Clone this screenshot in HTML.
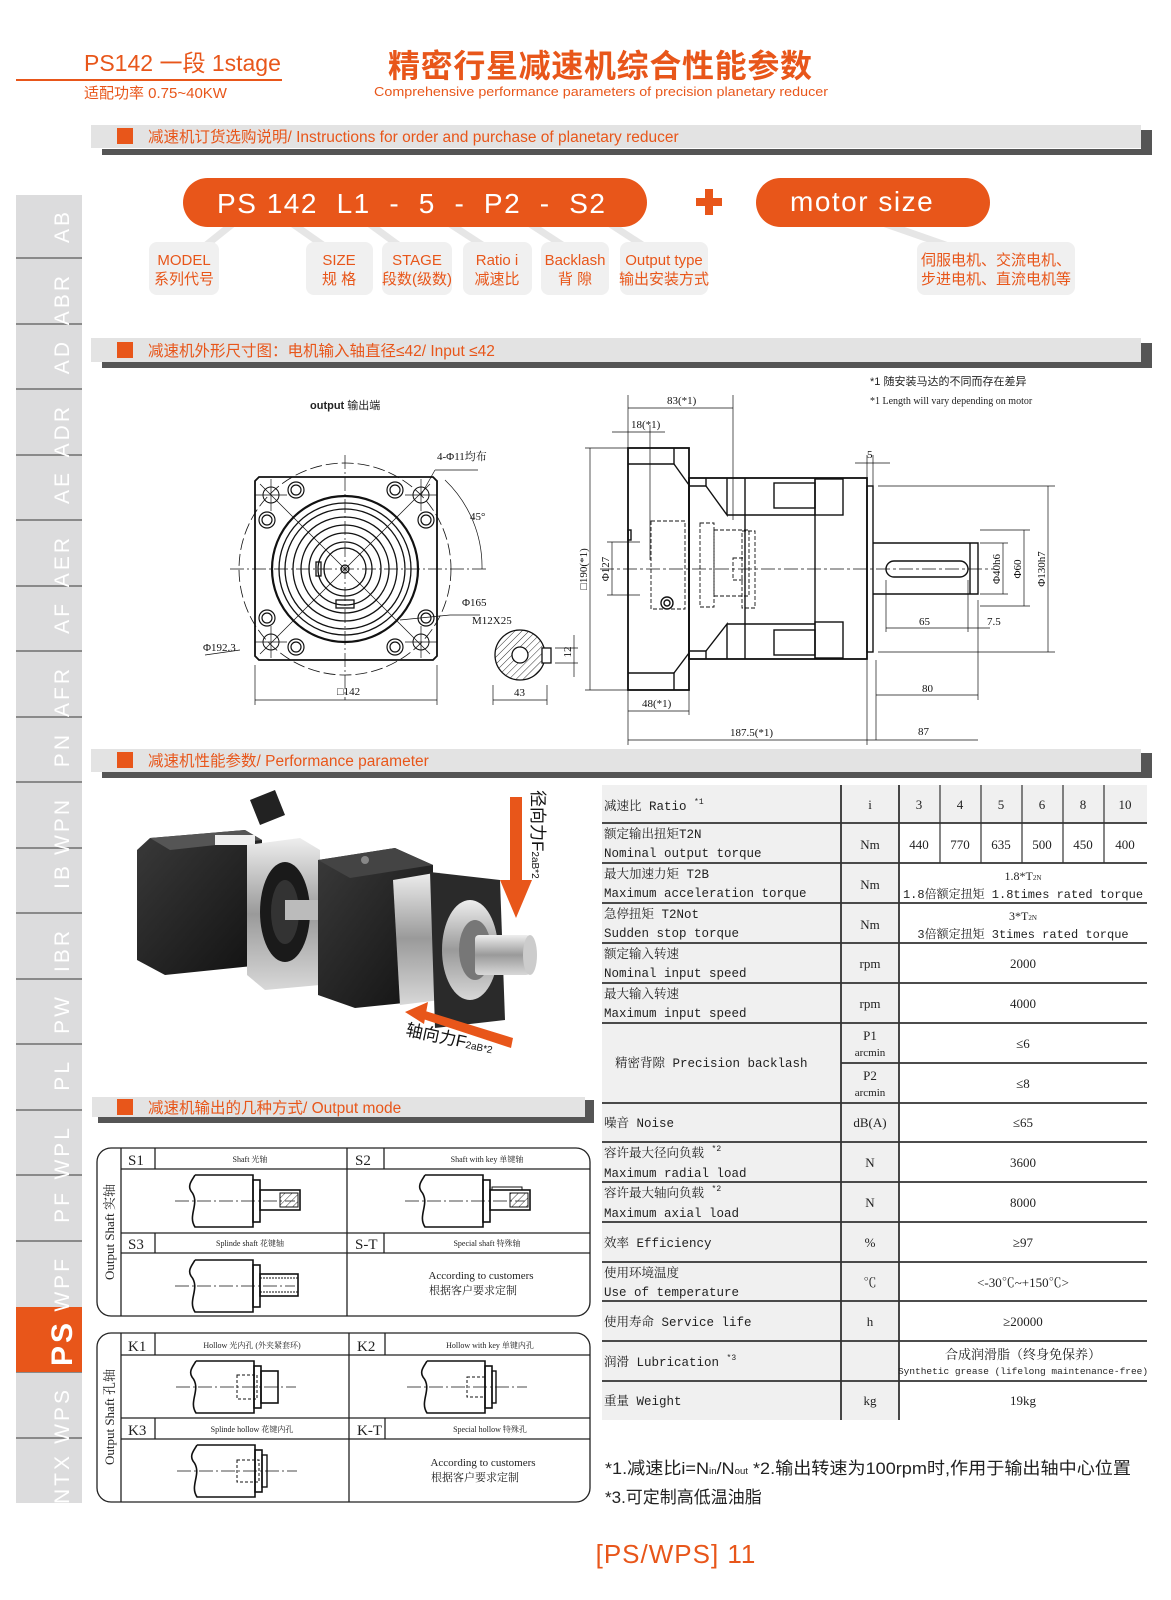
<!DOCTYPE html>
<html><head><meta charset="utf-8">
<style>
html,body{margin:0;padding:0;background:#fff;}
svg{display:block;}
.cn{font-family:"Liberation Sans","Noto Sans CJK SC",sans-serif;}
.sf{font-family:"Liberation Serif","Noto Serif CJK SC",serif;}
.mo{font-family:"Liberation Mono","Noto Serif CJK SC",monospace;}
</style></head>
<body>
<svg width="1171" height="1600" viewBox="0 0 1171 1600" xmlns="http://www.w3.org/2000/svg">
<defs>
<pattern id="hatch" width="5" height="5" patternUnits="userSpaceOnUse" patternTransform="rotate(45)">
<line x1="0" y1="0" x2="0" y2="5" stroke="#333" stroke-width="1"/></pattern>
<linearGradient id="silver" x1="0" y1="0" x2="0" y2="1"><stop offset="0" stop-color="#eee"/><stop offset=".5" stop-color="#9a9a9a"/><stop offset="1" stop-color="#d8d8d8"/></linearGradient>
<linearGradient id="dark" x1="0" y1="0" x2="1" y2="1"><stop offset="0" stop-color="#3a3a3a"/><stop offset="1" stop-color="#111"/></linearGradient>
<g id="shaftbody" fill="none" stroke="#111" stroke-width="1.6">
<path d="M0,0 L58,0 L58,52 L0,52 C-8,40 6,28 -4,16 C-8,10 -2,4 0,0"/>
<rect x="58" y="5" width="7" height="42"/>
<line x1="-20" y1="26" x2="100" y2="26" stroke-width="0.8" stroke-dasharray="14,3,2,3"/>
</g>
</defs>

<!-- header -->
<text x="84" y="71" class="cn" font-size="23" fill="#e8561a">PS142 一段 1stage</text>
<rect x="16" y="79" width="266" height="2" fill="#e8561a"/>
<text x="84" y="98" class="cn" font-size="15" fill="#e8561a">适配功率 0.75~40KW</text>
<text x="388" y="77" class="cn" font-size="32" font-weight="bold" fill="#e8561a" textLength="424">精密行星减速机综合性能参数</text>
<text x="374" y="96" class="cn" font-size="13" fill="#e8561a" textLength="454" lengthAdjust="spacingAndGlyphs">Comprehensive performance parameters of precision planetary reducer</text>

<!-- sidebar -->
<rect x="16" y="195" width="66" height="1308" fill="#dcdcdd"/>
<g fill="#8a8a8a">
<rect x="16" y="257" width="66" height="2"/><rect x="16" y="323" width="66" height="2"/><rect x="16" y="388" width="66" height="2"/><rect x="16" y="454" width="66" height="2"/><rect x="16" y="519" width="66" height="2"/><rect x="16" y="585" width="66" height="2"/><rect x="16" y="650" width="66" height="2"/><rect x="16" y="716" width="66" height="2"/><rect x="16" y="781" width="66" height="2"/><rect x="16" y="847" width="66" height="2"/><rect x="16" y="912" width="66" height="2"/><rect x="16" y="978" width="66" height="2"/><rect x="16" y="1043" width="66" height="2"/><rect x="16" y="1109" width="66" height="2"/><rect x="16" y="1174" width="66" height="2"/><rect x="16" y="1240" width="66" height="2"/><rect x="16" y="1371" width="66" height="2"/><rect x="16" y="1437" width="66" height="2"/>
</g>
<rect x="16" y="1307" width="66" height="65" fill="#e8561a"/>
<g class="cn" font-size="21" fill="#fff" text-anchor="end" letter-spacing="3">
<text transform="translate(69,209) rotate(-90)">AB</text>
<text transform="translate(69,273) rotate(-90)">ABR</text>
<text transform="translate(69,339) rotate(-90)">AD</text>
<text transform="translate(69,404) rotate(-90)">ADR</text>
<text transform="translate(69,470) rotate(-90)">AE</text>
<text transform="translate(69,535) rotate(-90)">AER</text>
<text transform="translate(69,601) rotate(-90)">AF</text>
<text transform="translate(69,666) rotate(-90)">AFR</text>
<text transform="translate(69,732) rotate(-90)">PN</text>
<text transform="translate(69,797) rotate(-90)">WPN</text>
<text transform="translate(69,863) rotate(-90)">IB</text>
<text transform="translate(69,928) rotate(-90)">IBR</text>
<text transform="translate(69,994) rotate(-90)">PW</text>
<text transform="translate(69,1059) rotate(-90)">PL</text>
<text transform="translate(69,1125) rotate(-90)">WPL</text>
<text transform="translate(69,1190) rotate(-90)">PF</text>
<text transform="translate(69,1256) rotate(-90)">WPF</text>
<text transform="translate(72,1320) rotate(-90)" font-size="30" font-weight="bold">PS</text>
<text transform="translate(69,1387) rotate(-90)">WPS</text>
<text transform="translate(69,1453) rotate(-90)">NTX</text>
</g>

<!-- section bars -->
<g>
<rect x="102" y="149" width="1050" height="6" fill="#555"/><rect x="1141" y="130" width="11" height="25" fill="#555"/>
<rect x="91" y="125" width="1050" height="23" fill="#e3e3e3"/>
<rect x="117" y="128" width="16" height="16" fill="#e8561a"/>
<text x="148" y="142" class="cn" font-size="15.5" fill="#e8561a">减速机订货选购说明/ Instructions for order and purchase of planetary reducer</text>

<rect x="102" y="362" width="1050" height="6" fill="#555"/><rect x="1141" y="343" width="11" height="25" fill="#555"/>
<rect x="91" y="338" width="1050" height="24" fill="#e3e3e3"/>
<rect x="117" y="342" width="16" height="16" fill="#e8561a"/>
<text x="148" y="356" class="cn" font-size="15.5" fill="#e8561a">减速机外形尺寸图：电机输入轴直径≤42/ Input ≤42</text>

<rect x="102" y="772" width="1050" height="6" fill="#555"/><rect x="1141" y="753" width="11" height="25" fill="#555"/>
<rect x="91" y="749" width="1050" height="23" fill="#e3e3e3"/>
<rect x="117" y="752" width="16" height="16" fill="#e8561a"/>
<text x="148" y="766" class="cn" font-size="15.5" fill="#e8561a">减速机性能参数/ Performance parameter</text>

<rect x="98" y="1117" width="496" height="6" fill="#555"/><rect x="585" y="1100" width="9" height="23" fill="#555"/>
<rect x="92" y="1097" width="493" height="20" fill="#e3e3e3"/>
<rect x="117" y="1099" width="16" height="16" fill="#e8561a"/>
<text x="148" y="1113" class="cn" font-size="15.5" fill="#e8561a">减速机输出的几种方式/ Output mode</text>
</g>

<!-- order code -->
<g stroke="#e6e6e6" stroke-width="7" fill="none">
<line x1="235" y1="222" x2="200" y2="250"/><line x1="290" y1="222" x2="330" y2="250"/><line x1="367" y1="222" x2="405" y2="250"/><line x1="447" y1="222" x2="490" y2="250"/><line x1="527" y1="222" x2="570" y2="250"/><line x1="607" y1="222" x2="650" y2="250"/><line x1="880" y1="222" x2="960" y2="250"/>
</g>
<g fill="#f0f0f0">
<rect x="149" y="242" width="70" height="53" rx="8"/><rect x="306" y="242" width="67" height="53" rx="8"/><rect x="382" y="242" width="70" height="53" rx="8"/><rect x="463" y="242" width="69" height="53" rx="8"/><rect x="541" y="242" width="68" height="53" rx="8"/><rect x="620" y="242" width="88" height="53" rx="8"/><rect x="917" y="242" width="158" height="53" rx="8"/>
</g>
<rect x="183" y="178" width="464" height="49" rx="24.5" fill="#e8561a"/>
<rect x="756" y="178" width="234" height="49" rx="24.5" fill="#e8561a"/>
<text x="217" y="213" class="cn" font-size="28" fill="#fff" textLength="388" xml:space="preserve">PS 142  L1  -  5  -  P2  -  S2</text>
<text x="790" y="211" class="cn" font-size="28" fill="#fff" letter-spacing="1.5">motor size</text>
<rect x="696" y="198" width="26" height="8" fill="#e8561a"/><rect x="705" y="189" width="8" height="26" fill="#e8561a"/>
<g class="cn" font-size="15" fill="#e8561a" text-anchor="middle">
<text x="184" y="265">MODEL</text><text x="184" y="284">系列代号</text>
<text x="339" y="265">SIZE</text><text x="339" y="284">规  格</text>
<text x="417" y="265">STAGE</text><text x="417" y="284">段数(级数)</text>
<text x="497" y="265">Ratio i</text><text x="497" y="284">减速比</text>
<text x="575" y="265">Backlash</text><text x="575" y="284">背  隙</text>
<text x="664" y="265">Output type</text><text x="664" y="284">输出安装方式</text>
<text x="996" y="265">伺服电机、交流电机、</text><text x="996" y="284">步进电机、直流电机等</text>
</g>

<!-- drawing: notes -->
<g class="cn" font-size="11" fill="#222">
<text x="870" y="385">*1 随安装马达的不同而存在差异</text>
<text x="870" y="404" class="sf" font-size="10">*1 Length will vary depending on motor</text>
<text x="310" y="409" font-size="11"><tspan font-weight="bold">output</tspan> 输出端</text>
</g>

<!-- front view -->
<g fill="none" stroke="#111" stroke-width="1.3">
<circle cx="345" cy="569" r="106" stroke-dasharray="12,4" stroke-width="0.8"/>
<path d="M259,477 L433,477 L437,481 L437,656 L433,660 L259,660 L255,656 L255,481 Z" stroke-width="1.8"/>
<circle cx="345" cy="569" r="73" stroke-width="2.2"/>
<circle cx="345" cy="569" r="66"/>
<circle cx="345" cy="569" r="60"/>
<circle cx="345" cy="569" r="52"/>
<circle cx="345" cy="569" r="44"/>
<circle cx="345" cy="569" r="36"/>
<circle cx="345" cy="569" r="27"/>
<circle cx="345" cy="569" r="21"/>
<circle cx="345" cy="569" r="4"/>
<rect x="316" y="562" width="5" height="14"/>
<rect x="336" y="600" width="18" height="8"/>
<g stroke-width="1">
<circle cx="271" cy="495" r="8"/><circle cx="421" cy="495" r="8"/><circle cx="271" cy="642" r="8"/><circle cx="421" cy="642" r="8"/>
</g>
<g stroke-width="1.2">
<circle cx="296" cy="490" r="8"/><circle cx="296" cy="490" r="5"/>
<circle cx="395" cy="490" r="8"/><circle cx="395" cy="490" r="5"/>
<circle cx="267" cy="520" r="8"/><circle cx="267" cy="520" r="5"/>
<circle cx="426" cy="520" r="8"/><circle cx="426" cy="520" r="5"/>
<circle cx="267" cy="618" r="8"/><circle cx="267" cy="618" r="5"/>
<circle cx="426" cy="618" r="8"/><circle cx="426" cy="618" r="5"/>
<circle cx="296" cy="647" r="8"/><circle cx="296" cy="647" r="5"/>
<circle cx="395" cy="647" r="8"/><circle cx="395" cy="647" r="5"/>
</g>
<g stroke-width="0.7">
<line x1="230" y1="569" x2="487" y2="569" stroke-dasharray="14,3,2,3"/>
<line x1="345" y1="455" x2="345" y2="700" stroke-dasharray="14,3,2,3"/>
<line x1="260" y1="484" x2="430" y2="654"/>
<line x1="430" y1="484" x2="260" y2="654"/>
<line x1="255" y1="495" x2="287" y2="495"/><line x1="271" y1="479" x2="271" y2="511"/>
<line x1="405" y1="495" x2="437" y2="495"/><line x1="421" y1="479" x2="421" y2="511"/>
<line x1="255" y1="642" x2="287" y2="642"/><line x1="271" y1="626" x2="271" y2="658"/>
<line x1="405" y1="642" x2="437" y2="642"/><line x1="421" y1="626" x2="421" y2="658"/>
<path d="M445,480 A120,120 0 0 1 482,569"/>
<line x1="421" y1="495" x2="435" y2="470"/><line x1="435" y1="470" x2="478" y2="470"/>
<line x1="400" y1="620" x2="450" y2="615"/><line x1="450" y1="615" x2="480" y2="615"/>
<line x1="240" y1="650" x2="205" y2="655"/>
<line x1="255" y1="665" x2="255" y2="705"/><line x1="437" y1="665" x2="437" y2="705"/>
<line x1="255" y1="700" x2="437" y2="700"/>
</g>
</g>
<g class="sf" font-size="11" fill="#111">
<text x="437" y="460">4-Φ11均布</text>
<text x="470" y="520">45°</text>
<text x="462" y="606">Φ165</text>
<text x="472" y="624">M12X25</text>
<text x="203" y="651">Φ192.3</text>
<text x="337" y="695">□142</text>
<text x="514" y="696">43</text>
</g>
<!-- keyway section -->
<g fill="none" stroke="#111" stroke-width="1.3">
<circle cx="520" cy="655" r="25" fill="url(#hatch)"/>
<circle cx="520" cy="655" r="8" fill="#fff"/>
<rect x="542" y="648" width="9" height="15" fill="#fff"/>
<g stroke-width="0.7">
<line x1="493" y1="685" x2="493" y2="705"/><line x1="547" y1="685" x2="547" y2="705"/><line x1="493" y1="700" x2="547" y2="700"/>
<line x1="555" y1="648" x2="578" y2="648"/><line x1="555" y1="663" x2="578" y2="663"/><line x1="574" y1="635" x2="574" y2="677"/>
</g>
</g>
<text transform="translate(571,652) rotate(-90)" class="sf" font-size="11" fill="#111" text-anchor="middle">12</text>

<!-- side view -->
<g fill="none" stroke="#111" stroke-width="1.4">
<rect x="628" y="448" width="61" height="242" stroke-width="1.8"/>
<line x1="628" y1="464" x2="674" y2="464"/><line x1="674" y1="448" x2="674" y2="464"/>
<line x1="628" y1="673" x2="674" y2="673"/><line x1="674" y1="673" x2="674" y2="690"/>
<path d="M674,464 L689,485"/><path d="M674,673 L689,653"/>
<rect x="689" y="478" width="178" height="181" stroke-width="1.8"/>
<line x1="689" y1="486" x2="706" y2="486"/><line x1="706" y1="478" x2="706" y2="486"/>
<line x1="689" y1="651" x2="706" y2="651"/><line x1="706" y1="651" x2="706" y2="659"/>
<path d="M706,486 L727,515 L727,478"/><path d="M706,651 L727,624 L727,659"/>
<line x1="727" y1="515" x2="815" y2="515"/><line x1="727" y1="624" x2="815" y2="624"/>
<line x1="745" y1="478" x2="745" y2="659"/>
<line x1="815" y1="478" x2="815" y2="659"/>
<rect x="774" y="483" width="41" height="25"/><rect x="815" y="479" width="28" height="36"/>
<rect x="774" y="630" width="41" height="25"/><rect x="815" y="622" width="28" height="36"/>
<rect x="867" y="486" width="6" height="166"/>
<path d="M873,543 L978,543 L978,594 L873,594"/>
<line x1="970" y1="543" x2="970" y2="594"/>
<rect x="886" y="561" width="82" height="16" rx="8"/>
<g stroke-dasharray="4,2" stroke-width="0.9">
<rect x="651" y="521" width="34" height="88"/>
<rect x="700" y="523" width="14" height="84"/>
<rect x="714" y="530" width="35" height="66"/>
<rect x="742" y="531" width="13" height="77"/>
<rect x="733" y="558" width="12" height="22"/>
</g>
<circle cx="667" cy="603" r="6"/><circle cx="667" cy="603" r="3"/>
<rect x="628" y="530" width="3" height="10"/>
<g stroke-width="0.7">
<line x1="600" y1="569" x2="995" y2="569" stroke-dasharray="14,3,3,3"/>
<line x1="628" y1="395" x2="628" y2="448"/><line x1="733" y1="395" x2="733" y2="520"/>
<line x1="628" y1="408" x2="733" y2="408"/>
<line x1="612" y1="432" x2="665" y2="432"/><line x1="650" y1="425" x2="650" y2="560"/>
<line x1="585" y1="448" x2="628" y2="448"/><line x1="585" y1="690" x2="628" y2="690"/><line x1="590" y1="448" x2="590" y2="690"/>
<line x1="607" y1="542" x2="640" y2="542"/><line x1="607" y1="595" x2="640" y2="595"/><line x1="612" y1="542" x2="612" y2="595"/>
<line x1="855" y1="463" x2="890" y2="463"/><line x1="867" y1="455" x2="867" y2="478"/><line x1="873" y1="455" x2="873" y2="486"/>
<line x1="878" y1="486" x2="1055" y2="486"/><line x1="878" y1="652" x2="1055" y2="652"/><line x1="1048" y1="486" x2="1048" y2="652"/>
<line x1="980" y1="530" x2="1030" y2="530"/><line x1="980" y1="606" x2="1030" y2="606"/><line x1="1024" y1="530" x2="1024" y2="606"/>
<line x1="980" y1="543" x2="1008" y2="543"/><line x1="980" y1="594" x2="1008" y2="594"/><line x1="1003" y1="543" x2="1003" y2="594"/>
<line x1="886" y1="580" x2="886" y2="632"/><line x1="968" y1="580" x2="968" y2="632"/><line x1="978" y1="600" x2="978" y2="700"/>
<line x1="886" y1="628" x2="968" y2="628"/><line x1="968" y1="628" x2="990" y2="628"/>
<line x1="876" y1="695" x2="978" y2="695"/><line x1="876" y1="660" x2="876" y2="740"/>
<line x1="628" y1="690" x2="628" y2="745"/><line x1="689" y1="690" x2="689" y2="715"/>
<line x1="628" y1="711" x2="689" y2="711"/>
<line x1="628" y1="740" x2="867" y2="740"/><line x1="867" y1="660" x2="867" y2="745"/>
<line x1="867" y1="740" x2="978" y2="740"/>
</g>
</g>
<g class="sf" font-size="11" fill="#111">
<text x="667" y="404">83(*1)</text>
<text x="631" y="428">18(*1)</text>
<text x="867" y="458">5</text>
<text x="919" y="625">65</text>
<text x="987" y="625">7.5</text>
<text x="922" y="692">80</text>
<text x="642" y="707">48(*1)</text>
<text x="730" y="736">187.5(*1)</text>
<text x="918" y="735">87</text>
<text transform="translate(587,569) rotate(-90)" text-anchor="middle">□190(*1)</text>
<text transform="translate(609,569) rotate(-90)" text-anchor="middle">Φ127</text>
<text transform="translate(1000,569) rotate(-90)" text-anchor="middle">Φ40h6</text>
<text transform="translate(1021,569) rotate(-90)" text-anchor="middle">Φ60</text>
<text transform="translate(1045,569) rotate(-90)" text-anchor="middle">Φ130h7</text>
</g>

<!-- photo -->
<g>
<path d="M150,838 L245,830 L262,840 L262,965 L165,975 L137,960 L137,850 Z" fill="url(#dark)"/>
<path d="M150,838 L245,830 L262,840 L170,850 Z" fill="#555"/>
<rect x="215" y="835" width="40" height="10" fill="#eee"/>
<path d="M250,800 L275,790 L285,815 L260,825 Z" fill="#222"/>
<path d="M247,845 L300,838 L320,850 L320,985 L265,990 L247,975 Z" fill="url(#silver)"/>
<ellipse cx="285" cy="912" rx="25" ry="50" fill="#1a1a1a"/>
<ellipse cx="285" cy="912" rx="14" ry="32" fill="#333"/>
<rect x="285" y="900" width="35" height="20" fill="#bbb"/>
<path d="M318,860 L395,848 L433,865 L433,1000 L355,1008 L318,995 Z" fill="url(#dark)"/>
<path d="M318,860 L395,848 L433,865 L350,878 Z" fill="#444"/>
<circle cx="365" cy="860" r="4" fill="#888"/>
<path d="M393,880 L440,872 L440,1000 L400,1005 Z" fill="url(#silver)"/>
<path d="M430,872 L500,880 L505,1020 L435,1028 Z" fill="#2a2a2a"/>
<ellipse cx="470" cy="950" rx="28" ry="50" fill="url(#silver)"/>
<ellipse cx="475" cy="950" rx="16" ry="30" fill="#777"/>
<rect x="475" y="935" width="55" height="40" rx="4" fill="url(#silver)"/>
<ellipse cx="530" cy="955" rx="7" ry="20" fill="#ccc"/>
<path d="M510,797 L522,797 L522,880 L532,880 L516,918 L500,880 L510,880 Z" fill="#e8561a"/>
<path d="M420,1018 L422,1010 L513,1038 L511,1048 Z M405,1012 L428,1002 L424,1024 Z" fill="#e8561a"/>
<text transform="translate(532,790) rotate(90)" class="cn" font-size="17" fill="#111">径向力F<tspan font-size="10">2aB*2</tspan></text>
<text transform="translate(405,1035) rotate(12)" class="cn" font-size="17" fill="#111">轴向力F<tspan font-size="10">2aB*2</tspan></text>
</g>

<!-- performance table -->
<g>
<rect x="602" y="785" width="297" height="635" fill="#f0f0f0"/>
<rect x="899" y="785" width="248" height="38" fill="#f0f0f0"/>
<g stroke="#333" stroke-width="1.8">
<line x1="602" y1="823" x2="1147" y2="823"/><line x1="602" y1="863" x2="1147" y2="863"/><line x1="602" y1="903" x2="1147" y2="903"/><line x1="602" y1="943" x2="1147" y2="943"/><line x1="602" y1="983" x2="1147" y2="983"/><line x1="602" y1="1023" x2="1147" y2="1023"/><line x1="841" y1="1063" x2="1147" y2="1063"/><line x1="602" y1="1103" x2="1147" y2="1103"/><line x1="602" y1="1142" x2="1147" y2="1142"/><line x1="602" y1="1182" x2="1147" y2="1182"/><line x1="602" y1="1222" x2="1147" y2="1222"/><line x1="602" y1="1262" x2="1147" y2="1262"/><line x1="602" y1="1301" x2="1147" y2="1301"/><line x1="602" y1="1341" x2="1147" y2="1341"/><line x1="602" y1="1381" x2="1147" y2="1381"/>
<line x1="841" y1="785" x2="841" y2="1420"/><line x1="899" y1="785" x2="899" y2="1420"/>
</g>
<g stroke="#333" stroke-width="1.2">
<line x1="940" y1="785" x2="940" y2="863"/><line x1="981" y1="785" x2="981" y2="863"/><line x1="1022" y1="785" x2="1022" y2="863"/><line x1="1063" y1="785" x2="1063" y2="863"/><line x1="1104" y1="785" x2="1104" y2="863"/>
</g>
<g class="mo" font-size="12.5" fill="#222">
<text x="604" y="810">减速比 Ratio <tspan font-size="8" dy="-6">*1</tspan></text>
<text x="604" y="838">额定输出扭矩T2N</text><text x="604" y="857">Nominal output torque</text>
<text x="604" y="878">最大加速力矩 T2B</text><text x="604" y="897">Maximum acceleration torque</text>
<text x="604" y="918">急停扭矩 T2Not</text><text x="604" y="937">Sudden stop torque</text>
<text x="604" y="958">额定输入转速</text><text x="604" y="977">Nominal input speed</text>
<text x="604" y="998">最大输入转速</text><text x="604" y="1017">Maximum input speed</text>
<text x="615" y="1067">精密背隙 Precision backlash</text>
<text x="604" y="1127">噪音 Noise</text>
<text x="604" y="1157">容许最大径向负载 <tspan font-size="8" dy="-6">*2</tspan></text><text x="604" y="1177">Maximum radial load</text>
<text x="604" y="1197">容许最大轴向负载 <tspan font-size="8" dy="-6">*2</tspan></text><text x="604" y="1217">Maximum axial load</text>
<text x="604" y="1247">效率 Efficiency</text>
<text x="604" y="1277">使用环境温度</text><text x="604" y="1296">Use of temperature</text>
<text x="604" y="1326">使用寿命 Service life</text>
<text x="604" y="1366">润滑 Lubrication  <tspan font-size="8" dy="-6">*3</tspan></text>
<text x="604" y="1405">重量 Weight</text>
</g>
<g class="sf" font-size="13" fill="#222" text-anchor="middle">
<text x="870" y="809">i</text>
<text x="919" y="809">3</text><text x="960" y="809">4</text><text x="1001" y="809">5</text><text x="1042" y="809">6</text><text x="1083" y="809">8</text><text x="1125" y="809">10</text>
<text x="870" y="849">Nm</text>
<text x="919" y="849">440</text><text x="960" y="849">770</text><text x="1001" y="849">635</text><text x="1042" y="849">500</text><text x="1083" y="849">450</text><text x="1125" y="849">400</text>
<text x="870" y="889">Nm</text><text x="870" y="929">Nm</text>
<text x="1023" y="880" font-size="12">1.8*T<tspan font-size="7">2N</tspan></text>
<text x="1023" y="898" font-size="12" class="mo">1.8倍额定扭矩 1.8times rated torque</text>
<text x="1023" y="920" font-size="12">3*T<tspan font-size="7">2N</tspan></text>
<text x="1023" y="938" font-size="12" class="mo">3倍额定扭矩 3times rated torque</text>
<text x="870" y="968">rpm</text><text x="1023" y="968">2000</text>
<text x="870" y="1008">rpm</text><text x="1023" y="1008">4000</text>
<text x="870" y="1040">P1</text><text x="870" y="1056" font-size="11">arcmin</text>
<text x="870" y="1080">P2</text><text x="870" y="1096" font-size="11">arcmin</text>
<text x="1023" y="1048">≤6</text><text x="1023" y="1088">≤8</text>
<text x="870" y="1127">dB(A)</text><text x="1023" y="1127">≤65</text>
<text x="870" y="1167">N</text><text x="1023" y="1167">3600</text>
<text x="870" y="1207">N</text><text x="1023" y="1207">8000</text>
<text x="870" y="1247">%</text><text x="1023" y="1247">≥97</text>
<text x="870" y="1287">℃</text><text x="1023" y="1287">&lt;-30℃~+150℃&gt;</text>
<text x="870" y="1326">h</text><text x="1023" y="1326">≥20000</text>
<text x="1023" y="1359">合成润滑脂（终身免保养）</text>
<text x="1023" y="1374" font-size="9" class="mo" textLength="250" lengthAdjust="spacingAndGlyphs">Synthetic grease (lifelong maintenance-free)</text>
<text x="870" y="1405">kg</text><text x="1023" y="1405">19kg</text>
</g>
</g>

<!-- output mode boxes -->
<g fill="none" stroke="#222" stroke-width="1.3">
<rect x="97" y="1148" width="493" height="168" rx="14"/>
<line x1="121" y1="1148" x2="121" y2="1316"/><line x1="347" y1="1148" x2="347" y2="1316"/>
<line x1="121" y1="1169" x2="590" y2="1169"/><line x1="121" y1="1233" x2="590" y2="1233"/><line x1="121" y1="1253" x2="590" y2="1253"/>
<line x1="155" y1="1148" x2="155" y2="1169"/><line x1="384" y1="1148" x2="384" y2="1169"/>
<line x1="155" y1="1233" x2="155" y2="1253"/><line x1="384" y1="1233" x2="384" y2="1253"/>
<rect x="97" y="1333" width="493" height="169" rx="14"/>
<line x1="121" y1="1333" x2="121" y2="1502"/><line x1="349" y1="1333" x2="349" y2="1502"/>
<line x1="121" y1="1355" x2="590" y2="1355"/><line x1="121" y1="1418" x2="590" y2="1418"/><line x1="121" y1="1439" x2="590" y2="1439"/>
<line x1="155" y1="1333" x2="155" y2="1355"/><line x1="385" y1="1333" x2="385" y2="1355"/>
<line x1="155" y1="1418" x2="155" y2="1439"/><line x1="385" y1="1418" x2="385" y2="1439"/>
</g>
<g class="sf" fill="#222">
<g font-size="15"><text x="128" y="1165">S1</text><text x="355" y="1165">S2</text><text x="128" y="1249">S3</text><text x="355" y="1249">S-T</text>
<text x="128" y="1351">K1</text><text x="357" y="1351">K2</text><text x="128" y="1435">K3</text><text x="357" y="1435">K-T</text></g>
<g font-size="8" text-anchor="middle">
<text x="250" y="1162">Shaft 光轴</text><text x="487" y="1162">Shaft with key 单键轴</text>
<text x="250" y="1246">Splinde shaft 花键轴</text><text x="487" y="1246">Special shaft 特殊轴</text>
<text x="252" y="1348">Hollow 光内孔 (外夹紧套环)</text><text x="490" y="1348">Hollow with key 单键内孔</text>
<text x="252" y="1432">Splinde hollow 花键内孔</text><text x="490" y="1432">Special hollow 特殊孔</text>
</g>
<g font-size="11" text-anchor="middle">
<text x="481" y="1279">According to customers</text><text x="473" y="1294">根据客户要求定制</text>
<text x="483" y="1466">According to customers</text><text x="475" y="1481">根据客户要求定制</text>
</g>
<text transform="translate(114,1232) rotate(-90)" font-size="13" text-anchor="middle">Output Shaft  实轴</text>
<text transform="translate(114,1417) rotate(-90)" font-size="13" text-anchor="middle">Output Shaft  孔轴</text>
</g>
<!-- shaft mini drawings -->
<g>
<use href="#shaftbody" x="195" y="1175"/>
<rect x="260" y="1190" width="40" height="20" fill="none" stroke="#111" stroke-width="1.6"/>
<rect x="280" y="1193" width="18" height="14" fill="url(#hatch)" stroke="#111"/>
<use href="#shaftbody" x="425" y="1175"/>
<rect x="490" y="1190" width="40" height="20" fill="none" stroke="#111" stroke-width="1.6"/>
<rect x="492" y="1187" width="30" height="3" fill="none" stroke="#111"/>
<rect x="510" y="1193" width="18" height="14" fill="url(#hatch)" stroke="#111"/>
<use href="#shaftbody" x="195" y="1260"/>
<rect x="260" y="1274" width="38" height="22" fill="none" stroke="#111" stroke-width="1.6"/>
<line x1="260" y1="1278" x2="298" y2="1278" stroke="#111" stroke-dasharray="2,1"/><line x1="260" y1="1292" x2="298" y2="1292" stroke="#111" stroke-dasharray="2,1"/>
<use href="#shaftbody" x="196" y="1361"/>
<rect x="237" y="1375" width="20" height="24" fill="none" stroke="#111" stroke-dasharray="3,2"/>
<rect x="261" y="1371" width="17" height="32" fill="none" stroke="#111" stroke-width="1.6"/>
<use href="#shaftbody" x="427" y="1361"/>
<rect x="467" y="1377" width="18" height="20" fill="none" stroke="#111" stroke-dasharray="3,2"/>
<rect x="492" y="1371" width="4" height="32" fill="none" stroke="#111" stroke-width="1.4"/>
<use href="#shaftbody" x="197" y="1445"/>
<rect x="237" y="1460" width="22" height="22" fill="none" stroke="#111" stroke-dasharray="3,2"/>
<rect x="262" y="1455" width="5" height="32" fill="none" stroke="#111" stroke-width="1.4"/>
</g>

<!-- footnotes -->
<g class="cn" fill="#222" font-size="17">
<text x="605" y="1474" textLength="526" lengthAdjust="spacingAndGlyphs">*1.减速比i=N<tspan font-size="9">in</tspan>/N<tspan font-size="9">out</tspan>  *2.输出转速为100rpm时,作用于输出轴中心位置</text>
<text x="605" y="1503">*3.可定制高低温油脂</text>
</g>
<text x="676" y="1563" class="cn" font-size="26" fill="#e8561a" text-anchor="middle" letter-spacing="1">[PS/WPS] 11</text>
</svg>
</body></html>
